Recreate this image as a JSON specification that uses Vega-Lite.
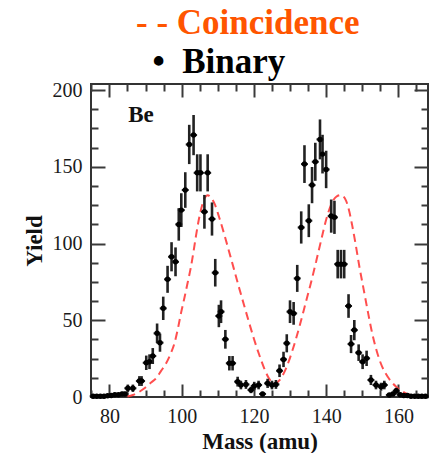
{
  "$schema": "https://vega.github.io/schema/vega-lite/v6.json",
  "width": 337,
  "height": 313,
  "autosize": {"type": "none"},
  "padding": {"left": 91, "top": 84, "right": 2, "bottom": 56},
  "background": "white",
  "title": {
    "text": "- - Coincidence",
    "anchor": "start",
    "frame": "group",
    "dx": 45,
    "offset": 3,
    "font": "Liberation Serif",
    "fontSize": 35,
    "fontWeight": "bold",
    "color": "#ff5500"
  },
  "datasets": {
    "binary": [
      {"m":75.5,"y":0.5,"lo":0,"hi":1.2},
      {"m":76.5,"y":0.5,"lo":0,"hi":1.2},
      {"m":77.5,"y":0.5,"lo":0,"hi":1.2},
      {"m":78.5,"y":0.5,"lo":0,"hi":1.2},
      {"m":79.5,"y":0.8,"lo":0,"hi":1.6},
      {"m":80.5,"y":1,"lo":0,"hi":2},
      {"m":81.5,"y":1.5,"lo":0.3,"hi":2.7},
      {"m":82.5,"y":1.5,"lo":0.3,"hi":2.7},
      {"m":83.5,"y":2,"lo":0.6,"hi":3.4},
      {"m":84.3,"y":2,"lo":0.6,"hi":3.4},
      {"m":85.1,"y":5.7,"lo":3.3,"hi":8.1},
      {"m":86.5,"y":5.7,"lo":3.3,"hi":8.1},
      {"m":88.3,"y":10.4,"lo":7.2,"hi":13.6},
      {"m":88.9,"y":10.4,"lo":7.2,"hi":13.6},
      {"m":90.2,"y":22.3,"lo":17.6,"hi":27},
      {"m":91.1,"y":23,"lo":18.2,"hi":27.8},
      {"m":92.0,"y":26.7,"lo":21.5,"hi":31.9},
      {"m":93.2,"y":41.5,"lo":35.1,"hi":47.9},
      {"m":94.0,"y":35.4,"lo":29.5,"hi":41.3},
      {"m":94.9,"y":57.8,"lo":50.2,"hi":65.4},
      {"m":96.1,"y":76.7,"lo":67.9,"hi":85.5},
      {"m":97.2,"y":91.4,"lo":81.9,"hi":100.9},
      {"m":98.3,"y":88.1,"lo":78.7,"hi":97.5},
      {"m":99.2,"y":112.5,"lo":101.9,"hi":123.1},
      {"m":99.9,"y":121.8,"lo":110.8,"hi":132.8},
      {"m":101.0,"y":134.9,"lo":123.3,"hi":146.5},
      {"m":102.1,"y":164.6,"lo":151.8,"hi":177.4},
      {"m":103.3,"y":170.7,"lo":157.6,"hi":183.8},
      {"m":104.3,"y":146.1,"lo":134,"hi":158.2},
      {"m":105.2,"y":146.1,"lo":134,"hi":158.2},
      {"m":106.3,"y":120.7,"lo":109.7,"hi":131.7},
      {"m":107.2,"y":146.1,"lo":134,"hi":158.2},
      {"m":108.4,"y":116,"lo":105.2,"hi":126.8},
      {"m":109.3,"y":81,"lo":72,"hi":90},
      {"m":110.3,"y":52.8,"lo":45.5,"hi":60.1},
      {"m":110.9,"y":55.6,"lo":48.2,"hi":63},
      {"m":112.1,"y":37.6,"lo":31.5,"hi":43.7},
      {"m":113.2,"y":22,"lo":17.3,"hi":26.7},
      {"m":114.1,"y":22,"lo":17.3,"hi":26.7},
      {"m":115.5,"y":10,"lo":6.8,"hi":13.2},
      {"m":116.4,"y":7.8,"lo":5,"hi":10.6},
      {"m":117.8,"y":8.2,"lo":5.3,"hi":11.1},
      {"m":119.2,"y":4.6,"lo":2.5,"hi":6.7},
      {"m":120.1,"y":7.2,"lo":4.5,"hi":9.9},
      {"m":121.3,"y":7.8,"lo":5,"hi":10.6},
      {"m":122.4,"y":2,"lo":0.6,"hi":3.4},
      {"m":123.8,"y":8.9,"lo":5.9,"hi":11.9},
      {"m":125.0,"y":7.8,"lo":5,"hi":10.6},
      {"m":126.1,"y":8.2,"lo":5.3,"hi":11.1},
      {"m":127.1,"y":17.1,"lo":13,"hi":21.2},
      {"m":128.2,"y":24.5,"lo":19.5,"hi":29.5},
      {"m":129.1,"y":35,"lo":29.1,"hi":40.9},
      {"m":130.0,"y":55.6,"lo":48.2,"hi":63},
      {"m":131.0,"y":54.5,"lo":47.1,"hi":61.9},
      {"m":132.0,"y":77.3,"lo":68.5,"hi":86.1},
      {"m":133.1,"y":110.5,"lo":100,"hi":121},
      {"m":134.0,"y":151.8,"lo":139.5,"hi":164.1},
      {"m":135.2,"y":114.9,"lo":104.2,"hi":125.6},
      {"m":136.1,"y":138.1,"lo":126.3,"hi":149.9},
      {"m":137.0,"y":153.3,"lo":140.9,"hi":165.7},
      {"m":138.3,"y":167.9,"lo":154.9,"hi":180.9},
      {"m":139.0,"y":158.3,"lo":145.7,"hi":170.9},
      {"m":140.0,"y":148.3,"lo":136.1,"hi":160.5},
      {"m":141.4,"y":117.9,"lo":107.1,"hi":128.7},
      {"m":142.3,"y":117.1,"lo":106.3,"hi":127.9},
      {"m":143.2,"y":86.6,"lo":77.3,"hi":95.9},
      {"m":144.1,"y":86.6,"lo":77.3,"hi":95.9},
      {"m":145.0,"y":86.6,"lo":77.3,"hi":95.9},
      {"m":146.2,"y":59.3,"lo":51.6,"hi":67},
      {"m":146.9,"y":34.5,"lo":28.6,"hi":40.4},
      {"m":147.8,"y":43.6,"lo":37,"hi":50.2},
      {"m":149.0,"y":28.9,"lo":23.5,"hi":34.3},
      {"m":150.1,"y":23,"lo":18.2,"hi":27.8},
      {"m":151.2,"y":25.2,"lo":20.2,"hi":30.2},
      {"m":152.4,"y":11.1,"lo":7.8,"hi":14.4},
      {"m":153.8,"y":7.8,"lo":5,"hi":10.6},
      {"m":155.2,"y":6.7,"lo":4.1,"hi":9.3},
      {"m":156.1,"y":7.8,"lo":5,"hi":10.6},
      {"m":157.5,"y":1.3,"lo":0.2,"hi":2.4},
      {"m":158.5,"y":2,"lo":0.6,"hi":3.4},
      {"m":159.4,"y":4,"lo":2,"hi":6},
      {"m":160.5,"y":1.5,"lo":0.3,"hi":2.7},
      {"m":161.5,"y":1,"lo":0,"hi":2},
      {"m":162.5,"y":1,"lo":0,"hi":2},
      {"m":163.5,"y":0.5,"lo":0,"hi":1.2},
      {"m":164.5,"y":0.5,"lo":0,"hi":1.2},
      {"m":165.5,"y":0.5,"lo":0,"hi":1.2},
      {"m":166.5,"y":0.5,"lo":0,"hi":1.2},
      {"m":167.5,"y":0.5,"lo":0,"hi":1.2}
    ],
    "coincidence": [
      {"m":85,"c":0.3},
      {"m":86.5,"c":1.3},
      {"m":88,"c":3},
      {"m":89.7,"c":5.7},
      {"m":91.3,"c":9},
      {"m":92.9,"c":12.2},
      {"m":94.3,"c":17},
      {"m":95.7,"c":22},
      {"m":97,"c":28.5},
      {"m":98,"c":35},
      {"m":99,"c":45},
      {"m":99.8,"c":54.5},
      {"m":100.8,"c":65},
      {"m":101.7,"c":75},
      {"m":102.5,"c":84},
      {"m":103.3,"c":95},
      {"m":104.0,"c":105.5},
      {"m":104.7,"c":115},
      {"m":105.5,"c":123.5},
      {"m":106.3,"c":129.5},
      {"m":107.2,"c":131.5},
      {"m":108.1,"c":130},
      {"m":109.1,"c":126},
      {"m":110.4,"c":117},
      {"m":111.8,"c":106},
      {"m":113.1,"c":95},
      {"m":114.4,"c":84},
      {"m":115.8,"c":72},
      {"m":117.2,"c":60.5},
      {"m":118.6,"c":49},
      {"m":120.0,"c":38},
      {"m":121.4,"c":28},
      {"m":122.8,"c":19},
      {"m":124.2,"c":12},
      {"m":125.6,"c":8.5},
      {"m":127.1,"c":11},
      {"m":128.9,"c":18.7},
      {"m":130.7,"c":30.6},
      {"m":132.6,"c":45.8},
      {"m":134.4,"c":62},
      {"m":135.8,"c":74.5},
      {"m":137.2,"c":88},
      {"m":138.6,"c":102},
      {"m":140.0,"c":115.5},
      {"m":141.4,"c":125.5},
      {"m":142.8,"c":130.5},
      {"m":144.1,"c":131.6},
      {"m":145.5,"c":128},
      {"m":146.4,"c":121},
      {"m":147.2,"c":112},
      {"m":148.2,"c":99},
      {"m":149.2,"c":85},
      {"m":150.4,"c":70},
      {"m":151.6,"c":55},
      {"m":152.8,"c":41},
      {"m":154.0,"c":30},
      {"m":155.2,"c":21.5},
      {"m":157.1,"c":13},
      {"m":159.4,"c":6.7},
      {"m":162.1,"c":2.4},
      {"m":165.8,"c":0.3},
      {"m":168.2,"c":0}
    ]
  },
  "config": {
    "view": {"stroke": "#333333", "strokeWidth": 2},
    "axis": {
      "grid": false,
      "domain": false,
      "tickColor": "#3a3a3a",
      "tickWidth": 2,
      "labelFont": "Liberation Serif",
      "labelFontSize": 20,
      "labelColor": "#1a1a1a",
      "labelFlush": false,
      "labelOverlap": false,
      "titleFont": "Liberation Serif",
      "titleFontWeight": "bold",
      "titleFontSize": 23,
      "titleColor": "#111111"
    }
  },
  "resolve": {"axis": {"x": "independent", "y": "independent"}},
  "layer": [
    {
      "data": {"name": "coincidence"},
      "mark": {"type": "line", "color": "#ff3b3b", "strokeWidth": 2, "strokeDash": [8, 5], "opacity": 0.9, "interpolate": "monotone"},
      "encoding": {
        "x": {"field": "m", "type": "quantitative",
              "scale": {"domain": [74.9, 168.2], "nice": false, "zero": false},
              "axis": {"orient": "bottom", "values": [80, 100, 120, 140, 160], "tickSize": -13, "labelPadding": 22, "title": "Mass (amu)", "titlePadding": 4}},
        "y": {"field": "c", "type": "quantitative",
              "scale": {"domain": [0, 204], "nice": false},
              "axis": {"orient": "left", "values": [0, 50, 100, 150, 200], "tickSize": -14, "labelPadding": 23, "title": "Yield", "titlePadding": 6}}
      }
    },
    {
      "data": {"name": "binary"},
      "mark": {"type": "rule", "color": "#222222", "strokeWidth": 2.6},
      "encoding": {
        "x": {"field": "m", "type": "quantitative",
              "scale": {"domain": [74.9, 168.2], "nice": false, "zero": false},
              "axis": {"orient": "bottom", "values": [75, 85, 90, 95, 105, 110, 115, 125, 130, 135, 145, 150, 155, 165], "tickSize": -7, "labels": false, "title": null}},
        "y": {"field": "lo", "type": "quantitative",
              "scale": {"domain": [0, 204], "nice": false},
              "axis": {"orient": "left", "values": [12.5, 25, 37.5, 62.5, 75, 87.5, 112.5, 125, 137.5, 162.5, 175, 187.5], "tickSize": -7, "labels": false, "title": null}},
        "y2": {"field": "hi"}
      }
    },
    {
      "data": {"name": "binary"},
      "mark": {"type": "point", "shape": "stroke", "filled": false, "size": 49, "stroke": "#222222", "strokeWidth": 2, "opacity": 1},
      "encoding": {
        "x": {"field": "m", "type": "quantitative",
              "scale": {"domain": [74.9, 168.2], "nice": false, "zero": false},
              "axis": {"orient": "top", "values": [80, 100, 120, 140, 160], "tickSize": -13, "labels": false,
                       "title": "•\u00a0 Binary", "titleFont": "Liberation Serif", "titleFontSize": 35, "titleFontWeight": "bold",
                       "titleColor": "#000000", "titleAlign": "left", "titleAnchor": "start", "titleBaseline": "alphabetic",
                       "titleAngle": 0, "titleX": 61, "titleY": -12}},
        "y": {"field": "y", "type": "quantitative",
              "scale": {"domain": [0, 204], "nice": false},
              "axis": {"orient": "right", "values": [0, 50, 100, 150, 200], "tickSize": -14, "labels": false, "title": null}}
      }
    },
    {
      "data": {"name": "binary"},
      "mark": {"type": "point", "shape": "circle", "filled": true, "size": 30, "color": "#000000", "opacity": 1},
      "encoding": {
        "x": {"field": "m", "type": "quantitative",
              "scale": {"domain": [74.9, 168.2], "nice": false, "zero": false},
              "axis": {"orient": "top", "values": [75, 85, 90, 95, 105, 110, 115, 125, 130, 135, 145, 150, 155, 165], "tickSize": -7, "labels": false, "title": null}},
        "y": {"field": "y", "type": "quantitative",
              "scale": {"domain": [0, 204], "nice": false},
              "axis": {"orient": "right", "values": [12.5, 25, 37.5, 62.5, 75, 87.5, 112.5, 125, 137.5, 162.5, 175, 187.5], "tickSize": -7, "labels": false, "title": null}}
      }
    },
    {
      "data": {"values": [{"label": "Be"}]},
      "mark": {"type": "text", "align": "left", "baseline": "middle", "font": "Liberation Serif", "fontWeight": "bold", "fontSize": 23, "color": "#111111"},
      "encoding": {
        "x": {"datum": 85.2, "type": "quantitative", "scale": {"domain": [74.9, 168.2], "nice": false, "zero": false}, "axis": null},
        "y": {"datum": 183.5, "type": "quantitative", "scale": {"domain": [0, 204], "nice": false}, "axis": null},
        "text": {"field": "label"}
      }
    }
  ]
}
